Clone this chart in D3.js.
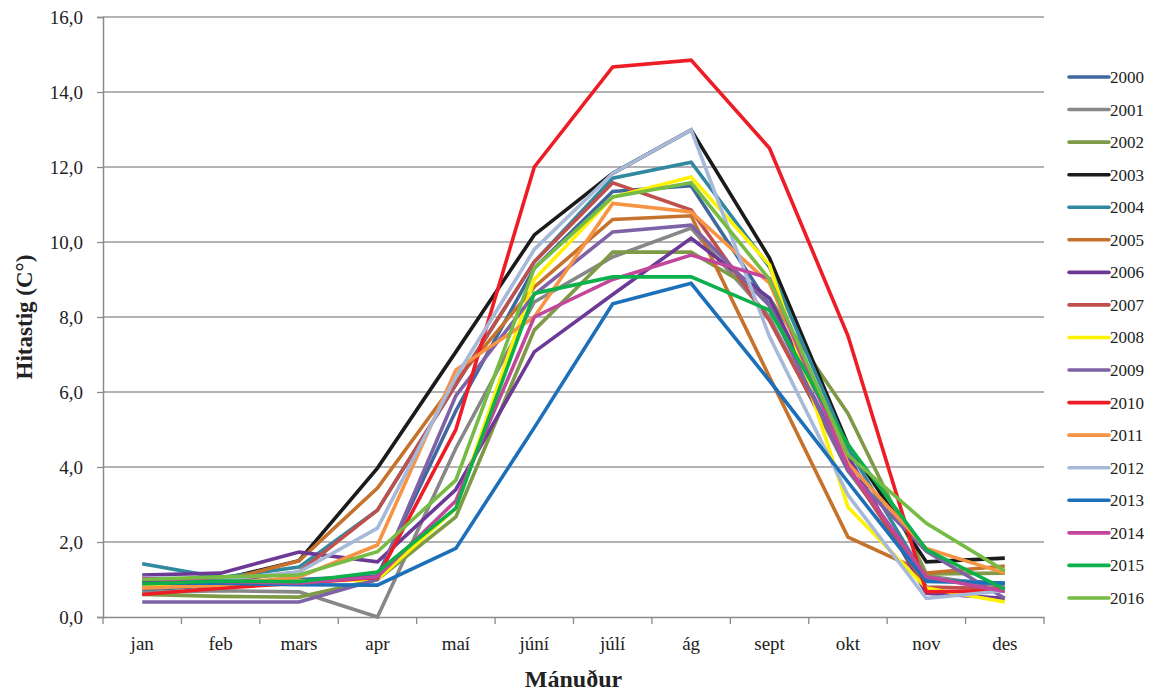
<!DOCTYPE html>
<html>
<head>
<meta charset="utf-8">
<script src="https://cdn.jsdelivr.net/npm/d3@7"></script>
<style>
  body { margin: 0; background: #fff; }
  text { font-family: "Times New Roman", Times, "Liberation Serif", serif; fill: #222; }
</style>
</head>
<body>
<div id="chart"></div>
<script>
// months on the x axis
var months = ["jan", "feb", "mars", "apr", "maí", "júní", "júlí", "ág", "sept", "okt", "nov", "des"];
var yTicks = [0, 2, 4, 6, 8, 10, 12, 14, 16];

var years = ["2000", "2001", "2002", "2003", "2004", "2005", "2006", "2007", "2008",
  "2009", "2010", "2011", "2012", "2013", "2014", "2015", "2016"];
var colors = ["#3f68a0", "#878787", "#7e9a47", "#1b1b1b", "#3189a0", "#c5732c", "#6c3a96", "#c0504d", "#fff200",
  "#7f62a6", "#ee1c25", "#f79443", "#a7b9d9", "#1c70b9", "#c2479b", "#0db14b", "#76bb43"];

// monthly values per year
var v2000 = [0.72, 0.85, 1.0, 1.1, 5.5, 9.3, 11.35, 11.5, 8.3, 4.0, 1.0, 0.9];
var v2001 = [0.65, 0.7, 0.67, 0.0, 4.5, 8.4, 9.6, 10.37, 8.0, 3.9, 1.1, 0.8];
var v2002 = [0.6, 0.55, 0.53, 1.0, 2.67, 7.65, 9.73, 9.73, 8.5, 5.43, 1.15, 1.17];
var v2003 = [0.95, 1.0, 1.5, 3.97, 7.07, 10.19, 11.83, 12.99, 9.57, 4.6, 1.47, 1.57];
var v2004 = [1.42, 1.05, 1.33, 2.85, 6.2, 9.47, 11.7, 12.13, 9.33, 4.5, 1.0, 0.9];
var v2005 = [0.8, 0.95, 1.5, 3.44, 6.3, 8.8, 10.6, 10.7, 6.4, 2.13, 1.17, 1.36];
var v2006 = [1.12, 1.17, 1.73, 1.47, 3.4, 7.07, 8.6, 10.1, 8.5, 4.3, 0.63, 0.5];
var v2007 = [0.9, 0.95, 1.2, 2.85, 6.2, 9.47, 11.58, 10.85, 7.9, 4.0, 0.8, 0.75];
var v2008 = [0.85, 0.9, 0.95, 1.0, 2.9, 9.0, 11.2, 11.73, 9.39, 2.93, 0.77, 0.4];
var v2009 = [0.4, 0.4, 0.4, 1.0, 5.9, 8.6, 10.27, 10.45, 8.3, 3.9, 1.75, 0.5];
var v2010 = [0.6, 0.77, 0.9, 1.05, 5.0, 12.0, 14.67, 14.85, 12.5, 7.5, 0.67, 0.7];
var v2011 = [0.77, 0.85, 1.07, 1.92, 6.59, 8.0, 11.03, 10.8, 8.9, 4.1, 1.83, 1.17];
var v2012 = [1.05, 1.0, 1.2, 2.37, 6.4, 9.8, 11.83, 12.99, 7.47, 3.25, 0.5, 0.7];
var v2013 = [0.9, 0.9, 0.86, 0.85, 1.83, 5.05, 8.35, 8.9, 6.3, 3.6, 0.95, 0.9];
var v2014 = [1.03, 0.95, 0.9, 1.07, 3.1, 8.0, 9.0, 9.65, 9.03, 4.0, 1.07, 0.68];
var v2015 = [0.88, 0.96, 0.94, 1.2, 2.9, 8.63, 9.07, 9.07, 8.18, 4.6, 1.8, 0.74];
var v2016 = [1.0, 1.07, 1.12, 1.74, 3.65, 9.3, 11.2, 11.58, 9.0, 4.32, 2.5, 1.23];

var series = [v2000, v2001, v2002, v2003, v2004, v2005, v2006, v2007, v2008,
  v2009, v2010, v2011, v2012, v2013, v2014, v2015, v2016];

var width = 1157, height = 693;
var margin = {top: 17, right: 113, bottom: 76, left: 103};
var plotW = width - margin.left - margin.right,
  plotH = height - margin.top - margin.bottom;
var serif = "'Times New Roman', Times, 'Liberation Serif', serif";

var svg = d3.select("#chart").append("svg")
  .attr("width", width)
  .attr("height", height);

var g = svg.append("g")
  .attr("transform", "translate(" + margin.left + "," + margin.top + ")");

var x = d3.scaleBand().domain(months).range([0, plotW]);
var y = d3.scaleLinear().domain([0, 16]).range([plotH, 0]);

var fmt = function (d) { return d3.format(".1f")(d).replace(".", ","); };

// gridlines
g.append("g").selectAll("line")
  .data(yTicks.filter(function (d) { return d > 0; }))
  .enter().append("line")
  .attr("x1", 0).attr("x2", plotW)
  .attr("y1", function (d) { return y(d); })
  .attr("y2", function (d) { return y(d); })
  .attr("stroke", "#9a9a9a")
  .attr("stroke-width", 1.3);

// y axis
var yAxis = g.append("g")
  .call(d3.axisLeft(y).tickValues(yTicks).tickFormat(fmt).tickSize(6).tickPadding(14));
yAxis.attr("font-family", null);
yAxis.select(".domain").attr("stroke", "#8a8a8a").attr("stroke-width", 1.5);
yAxis.selectAll(".tick line").attr("stroke", "#8a8a8a").attr("stroke-width", 1.3);
yAxis.selectAll("text").style("font-size", "19px").style("font-family", serif).attr("fill", "#222");

// x axis, ticks at category boundaries
var xAxis = g.append("g")
  .attr("transform", "translate(0," + plotH + ")")
  .call(d3.axisBottom(x).tickSize(0).tickPadding(20));
xAxis.attr("font-family", null);
xAxis.select(".domain").attr("stroke", "#8a8a8a").attr("stroke-width", 1.5);
xAxis.selectAll("text").style("font-size", "19px").style("font-family", serif).attr("fill", "#222");
xAxis.selectAll(".bound")
  .data(d3.range(months.length + 1))
  .enter().append("line")
  .attr("class", "bound")
  .attr("x1", function (i) { return i * x.step(); })
  .attr("x2", function (i) { return i * x.step(); })
  .attr("y1", 0).attr("y2", 7)
  .attr("stroke", "#8a8a8a").attr("stroke-width", 1.3);

// lines
var line = d3.line()
  .x(function (d, i) { return x(months[i]) + x.bandwidth() / 2; })
  .y(function (d) { return y(d); });

g.append("g").selectAll("path")
  .data(series)
  .enter().append("path")
  .attr("d", line)
  .attr("fill", "none")
  .attr("stroke", function (d, i) { return colors[i]; })
  .attr("stroke-width", 3.6)
  .attr("stroke-linejoin", "miter");

// axis titles
svg.append("text")
  .attr("transform", "translate(32," + (margin.top + plotH / 2) + ") rotate(-90)")
  .attr("text-anchor", "middle")
  .style("font-size", "23px").style("font-weight", "bold")
  .text("Hitastig (C°)");

svg.append("text")
  .attr("x", margin.left + plotW / 2)
  .attr("y", 687)
  .attr("text-anchor", "middle")
  .style("font-size", "24px").style("font-weight", "bold")
  .text("Mánuður");

// legend
var legend = svg.append("g").attr("transform", "translate(1069,77)");
var item = legend.selectAll("g")
  .data(years)
  .enter().append("g")
  .attr("transform", function (d, i) { return "translate(0," + (i * 32.56) + ")"; });
item.append("line")
  .attr("x1", 0).attr("x2", 40)
  .attr("stroke", function (d, i) { return colors[i]; })
  .attr("stroke-width", 3.6)
  .attr("stroke-linecap", "round");
item.append("text")
  .attr("x", 41).attr("y", 6)
  .style("font-size", "17px")
  .text(function (d) { return d; });
</script>
</body>
</html>
